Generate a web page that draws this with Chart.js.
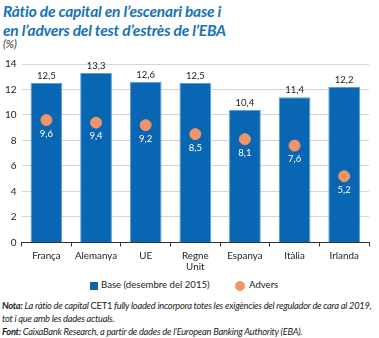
<!DOCTYPE html>
<html><head><meta charset="utf-8">
<script src="https://cdn.jsdelivr.net/npm/chart.js@4/dist/chart.umd.min.js"></script>
<style>
html,body{margin:0;padding:0;background:#fff;width:379px;height:338px;overflow:hidden;font-family:Lato,"Open Sans",sans-serif;}
#title{position:absolute;left:3px;top:2px;font-weight:bold;font-style:italic;color:#1672b9;font-size:15.5px;line-height:19px;letter-spacing:-0.2px;}
#unit{position:absolute;left:3px;top:37px;font-style:italic;font-size:11px;color:#333;}
#wrap{position:absolute;left:0;top:52px;width:379px;height:224px;}
#legend{position:absolute;top:279px;left:0;width:379px;font-size:9.6px;color:#222;}
#legend .sq{position:absolute;left:90px;top:3px;width:8px;height:8px;background:#0866b2;}
#legend .t1{position:absolute;left:101px;top:0px;}
#legend .ci{position:absolute;left:235px;top:2px;width:10px;height:10px;border-radius:50%;background:#f0956a;}
#legend .t2{position:absolute;left:249px;top:0px;}
#notes{position:absolute;left:2px;top:299px;font-size:9.3px;line-height:13px;color:#222;font-style:italic;letter-spacing:-0.25px;}
</style></head><body>
<div id="title">Ràtio de capital en l’escenari base i<br>en l’advers del test d’estrès de l’EBA</div>
<div id="unit">(%)</div>
<div id="wrap"><canvas id="c"></canvas></div>
<div id="legend"><div class="sq"></div><div class="t1">Base (desembre del 2015)</div><div class="ci"></div><div class="t2">Advers</div></div>
<div id="notes"><b>Nota:</b> La ràtio de capital <span style="font-style:normal">CET1</span> fully loaded incorpora totes les exigències del regulador de cara al 2019,<br>tot i que amb les dades actuals.<br><b>Font:</b> CaixaBank Research, a partir de dades de l’European Banking Authority (EBA).</div>
<script>
const categories = ["França","Alemanya","UE",["Regne","Unit"],"Espanya","Itàlia","Irlanda"];
const baseValues = [12.5,13.3,12.6,12.5,10.4,11.4,12.2];
const adversValues = [9.6,9.4,9.2,8.5,8.1,7.6,5.2];
const yTicks = [0,2,4,6,8,10,12,14];

const fmt = v => v.toFixed(1).replace('.', ',');
const labelPlugin = {
  id:'labels',
  afterDatasetsDraw(chart){
    const ctx = chart.ctx;
    ctx.save();
    ctx.font = '9.5px Lato, "Open Sans", sans-serif';
    ctx.textAlign = 'center';
    const m0 = chart.getDatasetMeta(0);
    m0.data.forEach((el,i)=>{
      ctx.fillStyle = '#222';
      ctx.textBaseline = 'bottom';
      ctx.fillText(fmt(baseValues[i]), el.x, el.y - 2);
    });
    const m1 = chart.getDatasetMeta(1);
    m1.data.forEach((el,i)=>{
      ctx.fillStyle = '#fff';
      ctx.textBaseline = 'top';
      ctx.fillText(fmt(adversValues[i]), el.x, el.y + 9);
    });
    ctx.restore();
  }
};

new Chart(document.getElementById('c'), {
  data:{
    labels: categories,
    datasets:[
      {type:'bar', label:'Base (desembre del 2015)', data: baseValues, backgroundColor:'#0866b2', borderColor:'#5aa0d8', borderWidth:1, barPercentage:0.64, categoryPercentage:1, order:2},
      {type:'scatter', label:'Advers', data: adversValues, backgroundColor:'#f0956a', borderColor:'#f0956a', pointRadius:5.5, pointHoverRadius:5.5, order:1}
    ]
  },
  options:{
    responsive:true, maintainAspectRatio:false, animation:false,
    layout:{padding:{left:0,right:10,top:12,bottom:0}},
    plugins:{
      legend:{display:false},
      tooltip:{enabled:false}
    },
    scales:{
      x:{type:'category', offset:true,
        grid:{display:true, drawOnChartArea:false, drawTicks:true, tickLength:4, color:'#333', offset:true},
        border:{display:true, color:'#333', width:1},
        ticks:{color:'#222', font:{size:9.8, family:'Lato, "Open Sans", sans-serif'}, maxRotation:0, padding:3}
      },
      y:{min:0, max:14,
        afterBuildTicks(ax){ ax.ticks = yTicks.map(v=>({value:v})); },
        grid:{color:'#d6d6d6', drawTicks:false, lineWidth:1},
        border:{display:false},
        ticks:{color:'#222', padding:5, font:{size:10, family:'Lato, "Open Sans", sans-serif'}}
      }
    }
  },
  plugins:[labelPlugin]
});
</script>
</body></html>
